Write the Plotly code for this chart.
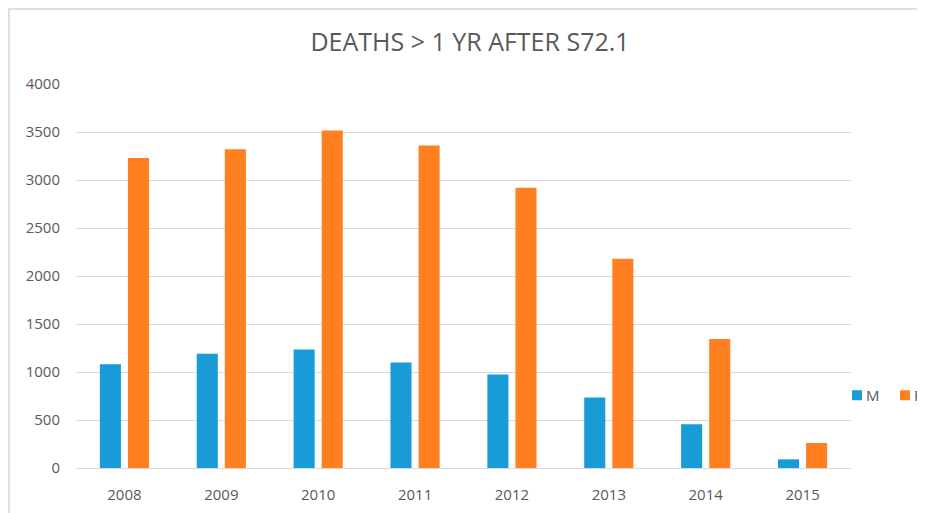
import plotly.graph_objects as go

years = ["2008", "2009", "2010", "2011", "2012", "2013", "2014", "2015"]
male = [1080, 1190, 1235, 1100, 975, 735, 455, 90]
female = [3230, 3320, 3515, 3360, 2920, 2180, 1345, 260]
series_names = ["M", "F"]
title_text = "DEATHS > 1 YR AFTER S72.1"

BLUE = "#189bd7"
ORANGE = "#ff7f21"
TXT = "#595959"
FONT = "Open Sans"

fig = go.Figure()
fig.add_trace(go.Bar(x=years, y=male, name=series_names[0], showlegend=False,
                     marker=dict(color=BLUE, line=dict(width=0))))
fig.add_trace(go.Bar(x=years, y=female, name=series_names[1], showlegend=False,
                     marker=dict(color=ORANGE, line=dict(width=0))))

# page body has an 8px margin; work in screen pixels
OFF = 8
W, H = 925 - OFF, 513 - OFF
PX0, PX1, PY0, PY1 = 76, 851, 84, 467.7  # plot area in screen px
L = PX0 - OFF
R = W - (PX1 - OFF)
T = PY0 - OFF
B = H - (PY1 - OFF)

def px2x(p):
    return (p - PX0) / (PX1 - PX0)

def px2y(p):
    return (PY1 - p) / (PY1 - PY0)

shapes = [dict(type="rect", xref="paper", yref="paper",
               x0=px2x(9), x1=px2x(960), y0=px2y(540), y1=px2y(9),
               line=dict(color="#d6d6d6", width=1.5), fillcolor="rgba(0,0,0,0)", layer="below")]
annotations = []
for name, color, sx in [(series_names[0], BLUE, 852), (series_names[1], ORANGE, 900)]:
    shapes.append(dict(type="rect", xref="paper", yref="paper",
                       x0=px2x(sx), x1=px2x(sx + 10), y0=px2y(400), y1=px2y(390),
                       line=dict(width=0), fillcolor=color))
    annotations.append(dict(text=name, xref="paper", yref="paper", x=px2x(sx + 12), y=px2y(395),
                            xanchor="left", yanchor="middle", showarrow=False,
                            font=dict(family=FONT, size=15, color=TXT)))

fig.update_layout(
    width=W, height=H,
    margin=dict(l=L, r=R, t=T, b=B, autoexpand=False),
    paper_bgcolor="white", plot_bgcolor="white",
    barmode="group", bargap=0.42, bargroupgap=0.25,
    font=dict(family=FONT, color=TXT, size=15),
    title=dict(text=title_text, x=px2x(470), xref="paper", xanchor="center",
               y=1 - (42 - OFF) / H, yanchor="middle",
               font=dict(family=FONT, size=25, color=TXT)),
    xaxis=dict(showgrid=False, showline=False, ticks="", ticklabelstandoff=16,
               tickfont=dict(size=15, color=TXT)),
    yaxis=dict(range=[0, 4000], dtick=500, showgrid=True, gridcolor="#d9d9d9",
               gridwidth=1, zeroline=True, zerolinecolor="#d9d9d9", zerolinewidth=1,
               showline=False, ticks="", ticklabelstandoff=15,
               tickfont=dict(size=15, color=TXT)),
    showlegend=False,
    shapes=shapes,
    annotations=annotations,
)

fig.write_html("out.html")
